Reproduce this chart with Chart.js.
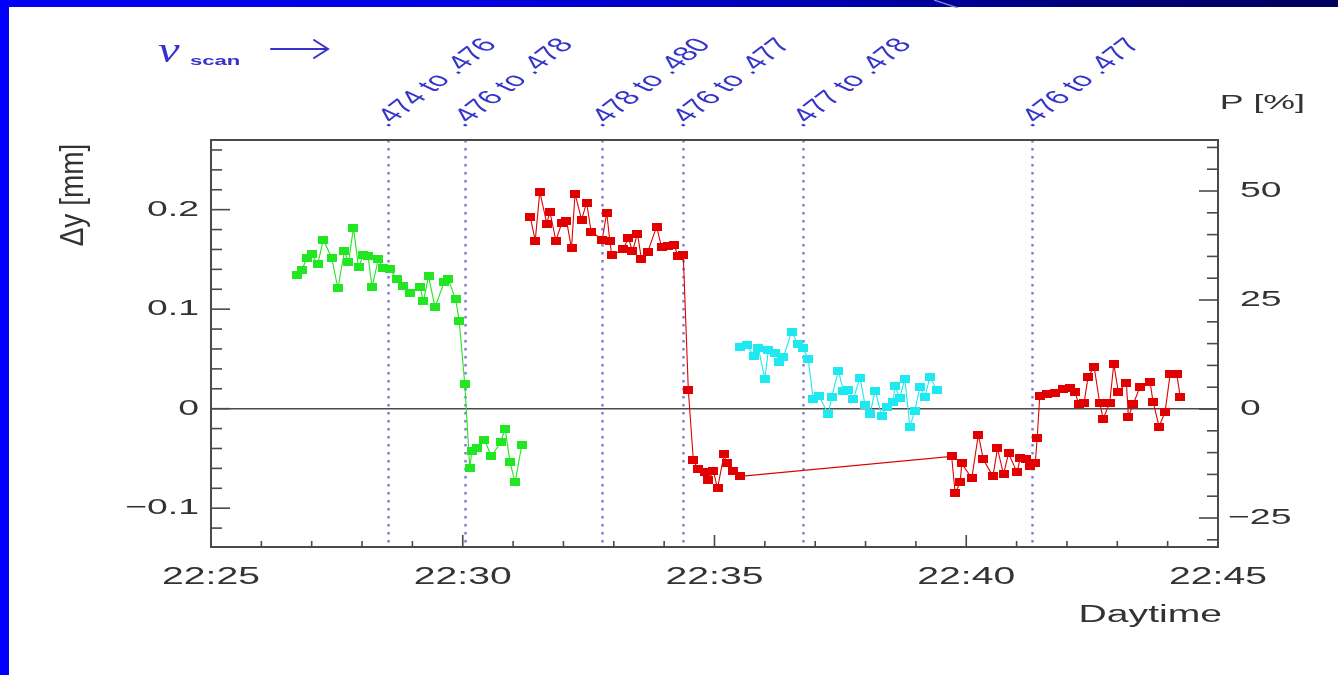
<!DOCTYPE html>
<html>
<head>
<meta charset="utf-8">
<title>Δy vs daytime during the ν scan</title>
<script src="https://cdn.jsdelivr.net/npm/chart.js@4.4.1/dist/chart.umd.min.js"></script>
<style>
  html, body { margin: 0; padding: 0; background: #fff; }
  #page { position: relative; width: 1338px; height: 675px; overflow: hidden; background: #fff; }
  #bandLeft { position: absolute; left: 0; top: 0; width: 9px; height: 675px; background: #0000ff; }
  #bandTop { position: absolute; left: 0; top: 0; width: 1338px; height: 7px;
    background: linear-gradient(to right, #0000f8 0%, #0000e0 35%, #0000b0 62%, #00007c 80%, #00005c 100%); }
  #glint { position: absolute; left: 934px; top: 0; width: 24px; height: 8px;
    background: linear-gradient(to top right, rgba(0,0,0,0) 42%, #8a9ae6 50%, rgba(0,0,0,0) 58%); }
  #chart { position: absolute; left: 0; top: 0; }
</style>
</head>
<body>
<div id="page">
  <canvas id="chart" width="1338" height="675"></canvas>
  <div id="bandLeft"></div>
  <div id="bandTop"></div>
  <div id="glint"></div>
</div>
<script>
// Time in minutes after 22:00, Δy in mm
const tGreen = [26.70, 26.80, 26.90, 27.00, 27.12, 27.23, 27.40, 27.52, 27.65, 27.73,
                27.83, 27.93, 28.02, 28.12, 28.20, 28.32, 28.42, 28.56, 28.69, 28.82,
                28.95, 29.15, 29.22, 29.32, 29.45, 29.63, 29.71, 29.86, 29.93, 30.04,
                30.14, 30.18, 30.28, 30.43, 30.57, 30.76, 30.84, 30.94, 31.04, 31.17];
const dyGreen = [0.134, 0.139, 0.151, 0.155, 0.145, 0.170, 0.151, 0.121, 0.158, 0.147,
                 0.182, 0.142, 0.154, 0.153, 0.122, 0.150, 0.141, 0.140, 0.130, 0.123,
                 0.116, 0.122, 0.108, 0.133, 0.102, 0.127, 0.130, 0.110, 0.088, 0.025,
                 -0.060, -0.043, -0.040, -0.031, -0.048, -0.033, -0.020, -0.054, -0.074, -0.037];

const tRed = [31.34, 31.44, 31.53, 31.67, 31.73, 31.85, 31.97, 32.06, 32.16, 32.23,
              32.36, 32.46, 32.55, 32.77, 32.86, 32.92, 32.96, 33.19, 33.29, 33.37,
              33.47, 33.55, 33.67, 33.85, 33.95, 34.07, 34.20, 34.28, 34.38, 34.48,
              34.58, 34.68, 34.81, 34.88, 34.98, 35.06, 35.19, 35.24, 35.37, 35.51,
              39.71, 39.78, 39.88, 39.91, 40.11, 40.24, 40.34, 40.53, 40.62, 40.74,
              40.84, 41.01, 41.07, 41.19, 41.27, 41.37, 41.41, 41.46, 41.60, 41.76,
              41.93, 42.06, 42.16, 42.23, 42.34, 42.42, 42.54, 42.65, 42.72, 42.85,
              42.93, 43.02, 43.18, 43.22, 43.32, 43.45, 43.65, 43.71, 43.83, 43.95,
              44.05, 44.18, 44.25];
const dyRed = [0.193, 0.169, 0.218, 0.186, 0.198, 0.169, 0.187, 0.189, 0.161, 0.216,
               0.190, 0.207, 0.178, 0.170, 0.197, 0.169, 0.154, 0.160, 0.172, 0.158,
               0.176, 0.150, 0.157, 0.183, 0.162, 0.163, 0.164, 0.153, 0.154, 0.019,
               -0.052, -0.061, -0.064, -0.072, -0.063, -0.080, -0.046, -0.055, -0.063, -0.068,
               -0.048, -0.085, -0.074, -0.055, -0.070, -0.026, -0.051, -0.068, -0.040, -0.066,
               -0.045, -0.064, -0.050, -0.051, -0.058, -0.055, -0.029, 0.013, 0.015, 0.016,
               0.020, 0.021, 0.017, 0.005, 0.006, 0.032, 0.042, 0.006, -0.010, 0.006,
               0.045, 0.017, 0.026, -0.008, 0.005, 0.022, 0.027, 0.007, -0.018, -0.003,
               0.035, 0.035, 0.012];

const tCyan = [35.51, 35.64, 35.78, 35.87, 36.00, 36.07, 36.20, 36.29, 36.37, 36.53,
               36.66, 36.76, 36.86, 36.96, 37.07, 37.26, 37.33, 37.46, 37.56, 37.66,
               37.76, 37.89, 37.99, 38.09, 38.19, 38.32, 38.42, 38.55, 38.58, 38.68,
               38.78, 38.88, 38.98, 39.08, 39.18, 39.28, 39.41];
const dyCyan = [0.062, 0.064, 0.053, 0.061, 0.030, 0.059, 0.056, 0.047, 0.052, 0.077,
                0.065, 0.061, 0.050, 0.010, 0.013, -0.005, 0.012, 0.038, 0.018, 0.019,
                0.010, 0.031, 0.004, -0.005, 0.018, -0.007, 0.002, 0.007, 0.023, 0.011,
                0.030, -0.018, -0.002, 0.022, 0.012, 0.032, 0.019];

// Tune changes of the scanned ν range
const scanTimes = [28.52, 30.04, 32.77, 34.37, 36.76, 41.31];
const scanLabels = ['.474 to .476', '.476 to .478', '.478 to .480', '.476 to .477', '.477 to .478', '.476 to .477'];

const xTicks = [25, 30, 35, 40, 45];
const xTickLabels = ['22:25', '22:30', '22:35', '22:40', '22:45'];
const yTicks = [-0.1, 0, 0.1, 0.2];
const yTickLabels = ['\u22120.1', '0', '0.1', '0.2'];
const pTicks = [-25, 0, 25, 50];
const pTickLabels = ['\u221225', '0', '25', '50'];

const COLORS = { green: '#22e622', red: '#e00000', cyan: '#1ee8f0' };
const AXIS = '#4a4a4a';
const TEXT = '#333333';
const SCAN = '#3434cc';
const STRETCH = 1.7;
const FONT = '"Liberation Sans", Arial, Helvetica, sans-serif';

function marker(color) {
  const c = document.createElement('canvas');
  c.width = 10; c.height = 8;
  const g = c.getContext('2d');
  g.fillStyle = color;
  g.fillRect(0, 0, 10, 8);
  return c;
}

function pts(ts, vs) { return ts.map((t, i) => ({ x: t, y: vs[i] })); }

function series(label, ts, vs, color) {
  return {
    label, data: pts(ts, vs), showLine: true,
    borderColor: color, borderWidth: 1.1, backgroundColor: color,
    pointStyle: marker(color), pointRadius: 4, pointHoverRadius: 4, tension: 0
  };
}

function txt(ctx, s, x, y, o) {
  ctx.save();
  ctx.translate(x, y);
  ctx.scale(o.sx || 1, 1);
  if (o.rot) ctx.rotate(o.rot);
  ctx.font = o.font;
  ctx.fillStyle = o.color || TEXT;
  ctx.textAlign = o.align || 'left';
  ctx.textBaseline = o.base || 'alphabetic';
  ctx.fillText(s, 0, 0);
  ctx.restore();
}

const underlay = {
  id: 'underlay',
  beforeDatasetsDraw(chart) {
    const { ctx, chartArea: a, scales } = chart;
    const x = scales.x, y = scales.y;
    ctx.save();
    // zero line
    ctx.strokeStyle = AXIS; ctx.lineWidth = 1.6;
    const y0 = y.getPixelForValue(0);
    ctx.beginPath(); ctx.moveTo(a.left, y0); ctx.lineTo(a.right, y0); ctx.stroke();
    // dotted scan markers
    ctx.strokeStyle = '#7b7bd2'; ctx.lineWidth = 2.4; ctx.setLineDash([2.5, 5.5]);
    scanTimes.forEach(t => {
      const px = Math.round(x.getPixelForValue(t)) + 0.5;
      ctx.beginPath(); ctx.moveTo(px, a.top); ctx.lineTo(px, a.bottom); ctx.stroke();
    });
    ctx.restore();
  }
};

const overlay = {
  id: 'overlay',
  afterDraw(chart) {
    const { ctx, chartArea: a, scales } = chart;
    const x = scales.x, y = scales.y, p = scales.p;
    ctx.save();
    ctx.strokeStyle = AXIS; ctx.lineWidth = 2;
    ctx.strokeRect(a.left, a.top, a.right - a.left, a.bottom - a.top);
    ctx.lineWidth = 1.6;
    // left axis ticks (inside)
    for (let v = -0.12; v <= 0.261; v += 0.02) {
      const major = Math.abs(Math.round(v * 50) % 5) === 0;
      const py = y.getPixelForValue(v);
      ctx.beginPath(); ctx.moveTo(a.left, py); ctx.lineTo(a.left + (major ? 19 : 11), py); ctx.stroke();
    }
    // right axis ticks (inside)
    for (let v = -30; v <= 60; v += 5) {
      const major = v % 25 === 0;
      const py = p.getPixelForValue(v);
      ctx.beginPath(); ctx.moveTo(a.right, py); ctx.lineTo(a.right - (major ? 19 : 11), py); ctx.stroke();
    }
    // time axis ticks
    for (let v = 26; v < 45; v += 1) {
      const major = v % 5 === 0;
      const px = x.getPixelForValue(v);
      ctx.beginPath(); ctx.moveTo(px, a.bottom); ctx.lineTo(px, a.bottom - (major ? 12 : 6)); ctx.stroke();
    }
    ctx.restore();

    // tick labels
    const tickFont = '22px ' + FONT;
    yTicks.forEach((v, i) => txt(ctx, yTickLabels[i], a.left - 12, y.getPixelForValue(v), { font: tickFont, sx: STRETCH, align: 'right', base: 'middle' }));
    pTicks.forEach((v, i) => {
      const s = pTickLabels[i];
      const x0 = s.startsWith('\u2212') ? a.right + 10 : a.right + 22;
      txt(ctx, s, x0, p.getPixelForValue(v), { font: tickFont, sx: STRETCH, align: 'left', base: 'middle' });
    });
    xTicks.forEach((v, i) => txt(ctx, xTickLabels[i], x.getPixelForValue(v), a.bottom + 31, { font: '23px ' + FONT, sx: STRETCH, align: 'center', base: 'middle' }));

    // axis titles
    txt(ctx, 'Daytime', a.right + 4, a.bottom + 75, { font: '23px ' + FONT, sx: STRETCH, align: 'right' });
    txt(ctx, 'P [%]', 1305, 109, { font: '21px ' + FONT, sx: STRETCH, align: 'right' });
    txt(ctx, '\u0394y [mm]', 83, 195, { font: '28px ' + FONT, sx: 1.2, align: 'center', rot: -Math.PI / 2 });

    // scan range annotations
    scanTimes.forEach((t, i) => {
      const px = x.getPixelForValue(t);
      txt(ctx, scanLabels[i], px - 1, a.top - 12, { font: '20px ' + FONT, color: SCAN, sx: STRETCH, rot: -52 * Math.PI / 180 });
    });

    // ν_scan with arrow
    txt(ctx, '\u03bd', 158, 62, { font: 'italic 36px "Liberation Serif", serif', color: SCAN, sx: 1.35 });
    txt(ctx, 'scan', 190, 65, { font: 'bold 13px ' + FONT, color: SCAN, sx: 1.7 });
    ctx.save();
    ctx.strokeStyle = SCAN; ctx.lineWidth = 2; ctx.lineCap = 'round';
    ctx.beginPath(); ctx.moveTo(271, 49); ctx.lineTo(327, 49); ctx.stroke();
    ctx.beginPath(); ctx.moveTo(314, 40); ctx.lineTo(328, 49); ctx.lineTo(314, 58); ctx.stroke();
    ctx.restore();
  }
};

new Chart(document.getElementById('chart'), {
  type: 'scatter',
  data: {
    datasets: [
      series('Δy green', tGreen, dyGreen, COLORS.green),
      series('Δy red', tRed, dyRed, COLORS.red),
      series('Δy cyan', tCyan, dyCyan, COLORS.cyan)
    ]
  },
  options: {
    responsive: false,
    animation: false,
    events: [],
    layout: { padding: { top: 140, left: 0, right: 0, bottom: 0 } },
    plugins: { legend: { display: false }, tooltip: { enabled: false } },
    scales: {
      x: {
        type: 'linear', min: 25, max: 45, position: 'bottom',
        grid: { display: false }, border: { display: false }, ticks: { display: false },
        afterFit(s) { s.height = 128; }
      },
      y: {
        type: 'linear', min: -0.139, max: 0.27, position: 'left',
        grid: { display: false }, border: { display: false }, ticks: { display: false },
        afterFit(s) { s.width = 211; }
      },
      p: {
        type: 'linear', min: -31.65, max: 61.7, position: 'right',
        grid: { display: false }, border: { display: false }, ticks: { display: false },
        afterFit(s) { s.width = 120; }
      }
    }
  },
  plugins: [underlay, overlay]
});
</script>
</body>
</html>
